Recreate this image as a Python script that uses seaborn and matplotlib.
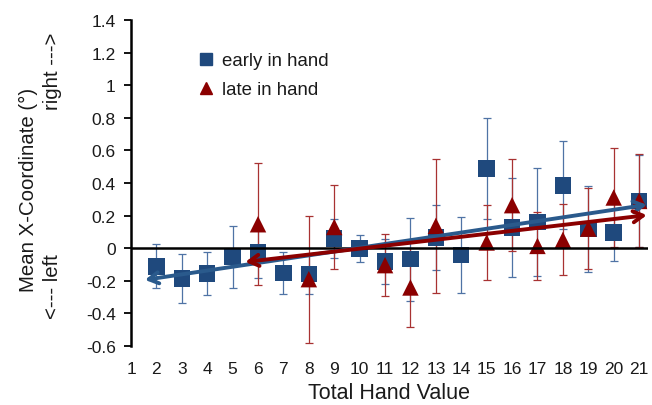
import matplotlib
matplotlib.use('Agg')
import matplotlib.pyplot as plt
from matplotlib.lines import Line2D
import numpy as np
import pandas as pd
import seaborn as sns

# early in hand (blue squares)
early_x = [2, 3, 4, 5, 6, 7, 8, 9, 10, 11, 12, 13, 14, 15, 16, 17, 18, 19, 20, 21]
early_mean = [-0.112, -0.186, -0.155, -0.053, -0.023, -0.153, -0.160, 0.059, -0.002, -0.082,
              -0.067, 0.066, -0.043, 0.489, 0.127, 0.161, 0.385, 0.117, 0.096, 0.290]
early_err = [0.135, 0.148, 0.133, 0.190, 0.157, 0.130, 0.124, 0.120, 0.083, 0.140,
             0.255, 0.200, 0.233, 0.311, 0.305, 0.330, 0.270, 0.265, 0.174, 0.280]

# late in hand (red triangles)
late_x = [6, 8, 9, 11, 12, 13, 15, 16, 17, 18, 19, 20, 21]
late_mean = [0.147, -0.190, 0.130, -0.104, -0.241, 0.137, 0.035, 0.264, 0.014, 0.051,
             0.120, 0.311, 0.290]
late_err = [0.375, 0.390, 0.258, 0.190, 0.243, 0.410, 0.232, 0.284, 0.210, 0.218,
            0.250, 0.305, 0.285]

# trendline forecast range (backward / forward)
early_trend_x = [1.55, 21.3]
late_trend_x = [5.5, 21.3]

x_ticks = list(range(1, 22))
y_ticks = [-0.6, -0.4, -0.2, 0, 0.2, 0.4, 0.6, 0.8, 1, 1.2, 1.4]
y_labels = ['-0.6', '-0.4', '-0.2', '0', '0.2', '0.4', '0.6', '0.8', '1', '1.2', '1.4']

BLUE = '#1F497D'
RED = '#8B0000'
TXT = '#1a1a1a'

sns.set_theme(style='white')
plt.rcParams['font.family'] = ['Liberation Sans', 'DejaVu Sans']

df = pd.concat([
    pd.DataFrame({'hand': early_x, 'mean': early_mean, 'err': early_err, 'when': 'early in hand'}),
    pd.DataFrame({'hand': late_x, 'mean': late_mean, 'err': late_err, 'when': 'late in hand'}),
], ignore_index=True)

fig = plt.figure(figsize=(6.52, 4.06), dpi=100)
ax = fig.add_axes([131 / 652, 1 - 347 / 406, 517 / 652, 326 / 406])

# error bars
ax.errorbar(early_x, early_mean, yerr=early_err, fmt='none', ecolor='#4F73A5',
            elinewidth=0.9, capsize=3, capthick=0.9, zorder=2)
ax.errorbar(late_x, late_mean, yerr=late_err, fmt='none', ecolor='#A83232',
            elinewidth=0.9, capsize=3, capthick=0.9, zorder=2)

sns.scatterplot(data=df, x='hand', y='mean', hue='when', style='when',
                palette={'early in hand': BLUE, 'late in hand': RED},
                markers={'early in hand': 's', 'late in hand': '^'},
                s=140, linewidth=0, legend=False, ax=ax, zorder=3)

# linear trendlines with arrows
for xs, ys, rng, col in [(early_x, early_mean, early_trend_x, '#2A5A8C'),
                         (late_x, late_mean, late_trend_x, RED)]:
    k, b = np.polyfit(xs, ys, 1)
    x0, x1 = rng
    ax.annotate('', xy=(x1, k * x1 + b), xytext=(x0, k * x0 + b),
                arrowprops=dict(arrowstyle='<->,head_length=0.7,head_width=0.4',
                                lw=2.8, color=col, shrinkA=0, shrinkB=0,
                                mutation_scale=10),
                zorder=5)

ax.axhline(0, color='black', lw=1.8, zorder=4)

ax.set_xlim(1, 21.35)
ax.set_ylim(-0.6, 1.4)
ax.set_xticks(x_ticks)
ax.set_xticklabels([str(v) for v in x_ticks])
ax.set_yticks(y_ticks)
ax.set_yticklabels(y_labels)
ax.tick_params(axis='x', length=0, pad=11, labelsize=12.5, labelcolor=TXT)
ax.tick_params(axis='y', length=5, width=1.3, direction='out', left=True,
               labelsize=12.5, colors='black', labelcolor=TXT, pad=6)

for s in ['top', 'right', 'bottom']:
    ax.spines[s].set_visible(False)
ax.spines['left'].set_color('black')
ax.spines['left'].set_linewidth(1.8)

ax.set_xlabel('Total Hand Value', fontsize=15.5, color=TXT, labelpad=4)
ax.set_ylabel('')

fig.text(28 / 652, 1 - 190 / 406, 'Mean X-Coordinate (°)', rotation=90,
         ha='center', va='center', fontsize=14.7, color=TXT)
fig.text(53 / 652, 1 - 71 / 406, 'right --->', rotation=90,
         ha='center', va='center', fontsize=14.7, color=TXT)
fig.text(53 / 652, 1 - 287 / 406, '<--- left', rotation=90,
         ha='center', va='center', fontsize=14.7, color=TXT)

handles = [Line2D([], [], marker='s', color=BLUE, ls='', markersize=8),
           Line2D([], [], marker='^', color=RED, ls='', markersize=8)]
ax.legend(handles, ['early in hand', 'late in hand'], loc='upper left',
          bbox_to_anchor=((199 - 131) / 517, (347 - 53) / 326), frameon=False,
          fontsize=13.4, handlelength=0.8, handletextpad=0.45, labelspacing=0.65,
          borderpad=0, borderaxespad=0, labelcolor=TXT)

fig.savefig('out.png', dpi=100)
